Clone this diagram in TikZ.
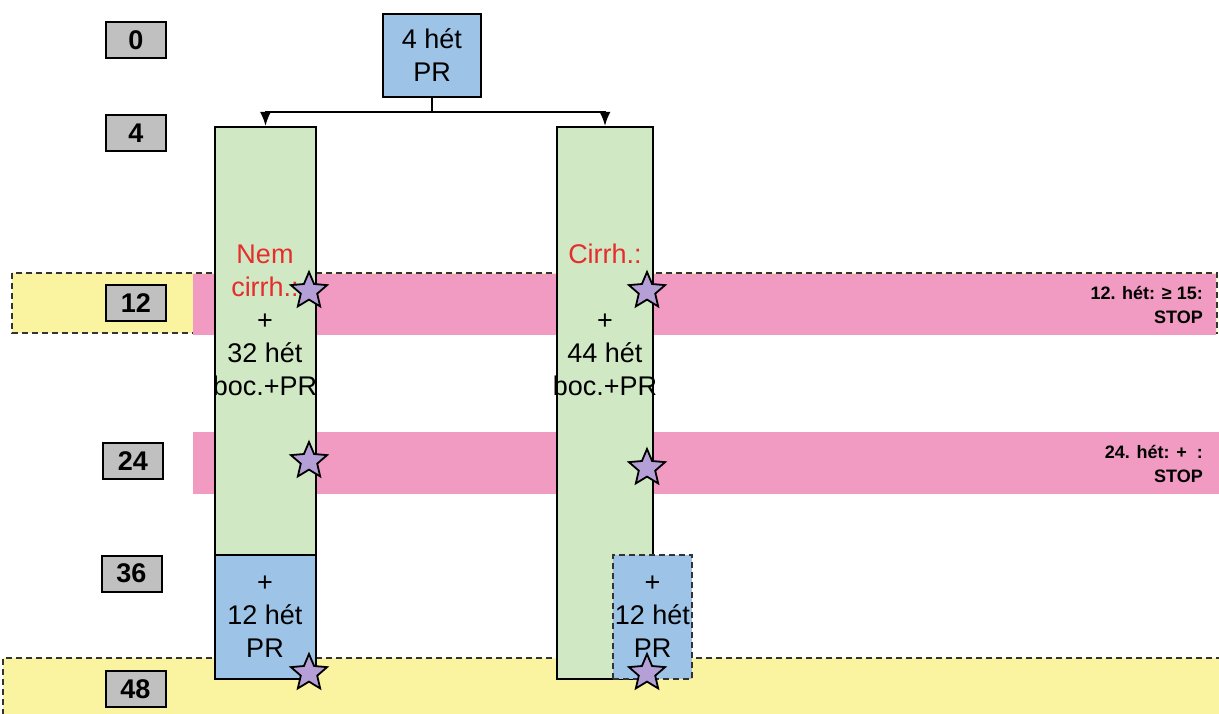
\documentclass[tikz,border=0pt]{standalone}
\usepackage{fontspec}
\setmainfont{Liberation Sans}
\usetikzlibrary{shapes.geometric,arrows.meta}
\definecolor{colgreen}{HTML}{D0E8C3}
\definecolor{colblue}{HTML}{9DC3E6}
\definecolor{bandpink}{HTML}{F19AC2}
\definecolor{bandyellow}{HTML}{FAF3A0}
\definecolor{weekgray}{HTML}{C0C0C0}
\definecolor{starlila}{HTML}{B4A0D7}
\definecolor{cirred}{HTML}{E52D2D}
\begin{document}
\begin{tikzpicture}[
  x=1pt, y=-1pt,
  week/.style={draw, line width=2pt, fill=weekgray, minimum width=60pt, minimum height=36pt, inner sep=0pt, font=\fontsize{27}{30}\selectfont\bfseries},
  column/.style={draw, line width=2pt, fill=colgreen, inner sep=0pt},
  prbox/.style={draw, line width=2pt, fill=colblue, inner sep=0pt},
  dashline/.style={line width=1.8pt, draw=black!80, dash pattern=on 6pt off 4pt},
  maintext/.style={align=center, inner sep=0pt, font=\fontsize{27}{33}\selectfont},
  stoptext/.style={align=right, anchor=east, inner sep=0pt, font=\fontsize{18}{24}\selectfont\bfseries},
  mark star/.style={star, star points=5, star point ratio=2.2, minimum size=38pt, inner sep=0pt, draw, line width=1.8pt, fill=starlila},
  edge/.style={draw, line width=2pt, -{Latex[length=14pt,width=11pt]}}
]
\useasboundingbox (0,0) rectangle (1219,714);

% bands
\draw[dashline, fill=bandyellow] (12,273) rectangle (1217,333);
\fill[bandpink] (193,274.5) rectangle (1216,335);
\fill[bandpink] (193,432) rectangle (1219,494);
\fill[bandyellow] (3,658) rectangle (1225,725);
\draw[dashline] (3,725) -- (3,658) -- (1225,658);

% week boxes
\node[week] (w0)  at (136,40)    {0};
\node[week] (w4)  at (136,133)   {4};
\node[week] (w12) at (136,303)   {12};
\node[week] (w24) at (133,461)   {24};
\node[week] (w36) at (131.5,573.5) {36};
\node[week] (w48) at (135.5,689) {48};

% start
\node[prbox, minimum width=98pt, minimum height=83pt] (start) at (432,55.5) {};
\node[maintext] (startlab) at (start) {4 hét\\PR};

% columns
\node[column, minimum width=101pt, minimum height=428pt] (colA) at (265.5,341) {};
\node[prbox, minimum width=101pt, minimum height=124pt] (endA) at (265.5,617) {};
\node[column, minimum width=96pt, minimum height=552pt] (colB) at (605,403) {};
\node[prbox, dashline, fill=colblue, minimum width=79pt, minimum height=124pt] (endB) at (652.5,617) {};

\node[maintext] (labA) at (265,320) {\textcolor{cirred}{Nem}\\\textcolor{cirred}{cirrh.:}\\+\\32 hét\\boc.+PR};
\node[maintext] (labB) at (605,320) {\textcolor{cirred}{Cirrh.:}\\[33pt]+\\44 hét\\boc.+PR};
\node[maintext] (restA) at (265,617) {+\\12 hét\\PR};
\node[maintext] (restB) at (652.5,617) {+\\12 hét\\PR};

% arrows
\coordinate (split) at (432,112);
\draw[edge] (start.south) -- (split) -| (colA.north);
\draw[edge] (split) -| (colB.north);

% stars
\node[mark star] (sA1) at (309,291) {};
\node[mark star] (sA2) at (309,461) {};
\node[mark star] (sA3) at (309,673) {};
\node[mark star] (sB1) at (647,291) {};
\node[mark star] (sB2) at (647,468) {};
\node[mark star] (sB3) at (647,673) {};

% stop rules
\node[stoptext] (stop12) at (1203,305) {12. hét: ≥ 15:\\STOP};
\node[stoptext] (stop24) at (1203,464) {24. hét: +\ \ :\\STOP};
\end{tikzpicture}
\end{document}
